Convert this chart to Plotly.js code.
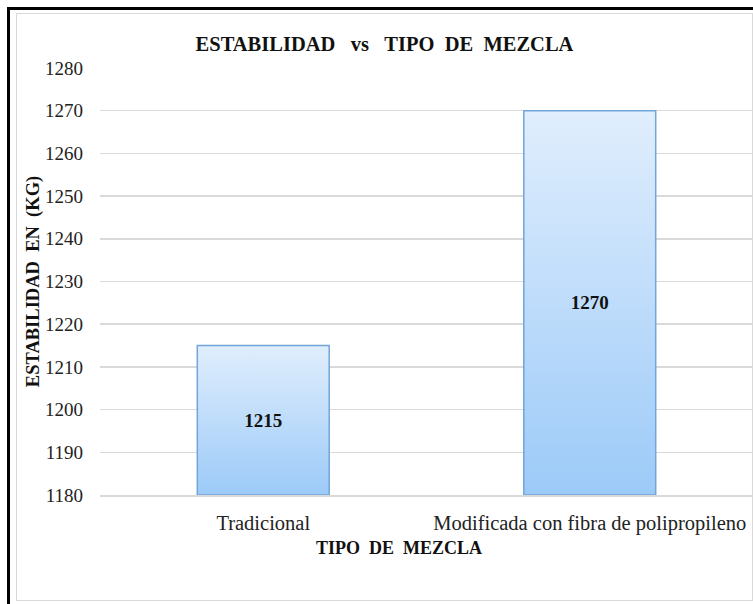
<!DOCTYPE html>
<html>
<head>
<meta charset="utf-8">
<script src="https://cdn.plot.ly/plotly-3.0.1.min.js"></script>
<style>
  html, body { margin: 0; padding: 0; background: #ffffff; }
  #wrap { position: relative; width: 753px; height: 604px; overflow: hidden; }
  #chart { position: absolute; left: 0; top: 0; width: 753px; height: 604px; }
  .deco { position: absolute; pointer-events: none; }
</style>
</head>
<body>
<div id="wrap">
  <div id="chart"></div>
  <div class="deco" style="left:7px; top:7px; width:746px; height:3px; background:#000;"></div>
  <div class="deco" style="left:7px; top:7px; width:3px; height:597px; background:#000;"></div>
  <div class="deco" style="left:16px; top:13px; width:735px; height:586px; border:1px solid #d9d9d9;"></div>
</div>
<script>
// ---- data ----
const categories = ['Tradicional', 'Modificada con fibra de polipropileno'];
const estabilidad = [1215, 1270];
const yAxisMin = 1180;
const yAxisMax = 1280;
const yTickValues = [1180, 1190, 1200, 1210, 1220, 1230, 1240, 1250, 1260, 1270, 1280];
const chartTitle = 'ESTABILIDAD\u00A0\u00A0\u00A0vs\u00A0\u00A0\u00A0TIPO\u00A0\u00A0DE\u00A0\u00A0MEZCLA';
const xTitle = 'TIPO\u00A0\u00A0DE\u00A0\u00A0MEZCLA';
const yTitle = 'ESTABILIDAD\u00A0\u00A0EN\u00A0\u00A0(KG)';

const serif = 'Liberation Serif, Times New Roman, serif';

// bars start at the axis minimum (as in the original chart), so each bar
// spans from yAxisMin up to its value
const trace = {
  type: 'bar',
  x: categories,
  base: yAxisMin,
  y: estabilidad.map(function (v) { return v - yAxisMin; }),
  customdata: estabilidad,
  marker: {
    color: '#bcdcfa',
    line: { color: '#72a5d9', width: 1.5 }
  },
  text: estabilidad.map(String),
  textposition: 'inside',
  insidetextanchor: 'middle',
  textangle: 0,
  textfont: { family: serif, size: 19, color: '#111', weight: 'bold' },
  hovertemplate: '%{x}: %{customdata}<extra></extra>'
};

const layout = {
  width: 753,
  height: 604,
  margin: { l: 100, r: 0, t: 68, b: 109, pad: 0 },
  paper_bgcolor: '#ffffff',
  plot_bgcolor: '#ffffff',
  showlegend: false,
  bargap: 0.596,
  font: { family: serif, color: '#222' },
  title: {
    text: chartTitle,
    font: { family: serif, size: 20.5, color: '#111', weight: 'bold' },
    xref: 'container', x: 384.5 / 753, xanchor: 'center',
    yref: 'container', y: 1 - 44 / 604, yanchor: 'middle'
  },
  xaxis: {
    type: 'category',
    showgrid: false,
    showline: true,
    linecolor: '#d9d9d9',
    linewidth: 1.5,
    ticks: '',
    ticklabelstandoff: 9,
    tickfont: { family: serif, size: 20.5, color: '#222' },
    automargin: false
  },
  yaxis: {
    range: [yAxisMin, yAxisMax],
    tickvals: yTickValues,
    ticktext: yTickValues.map(String),
    showgrid: true,
    gridcolor: '#d9d9d9',
    gridwidth: 1.5,
    zeroline: false,
    showline: false,
    ticks: '',
    ticklabelstandoff: 16,
    tickfont: { family: serif, size: 19, color: '#222' },
    automargin: false,
    title: {
      text: yTitle,
      font: { family: serif, size: 18.5, color: '#111', weight: 'bold' },
      standoff: 0
    }
  },
  annotations: [{
    text: xTitle,
    xref: 'paper', yref: 'paper',
    x: (399 - 100) / 653, y: (495 - 548) / 427,
    xanchor: 'center', yanchor: 'middle',
    showarrow: false,
    font: { family: serif, size: 18, color: '#111', weight: 'bold' }
  }]
};

Plotly.newPlot('chart', [trace], layout, { displayModeBar: false, staticPlot: true }).then(function (gd) {
  const svgNS = 'http://www.w3.org/2000/svg';
  const svg = gd.querySelector('svg.main-svg');
  let defs = svg.querySelector('defs');
  if (!defs) { defs = document.createElementNS(svgNS, 'defs'); svg.insertBefore(defs, svg.firstChild); }
  const grad = document.createElementNS(svgNS, 'linearGradient');
  grad.setAttribute('id', 'barGrad');
  grad.setAttribute('x1', '0'); grad.setAttribute('y1', '0');
  grad.setAttribute('x2', '0'); grad.setAttribute('y2', '1');
  [['0', '#e0eefd'], ['1', '#9ccaf8']].forEach(function (s) {
    const st = document.createElementNS(svgNS, 'stop');
    st.setAttribute('offset', s[0]);
    st.setAttribute('stop-color', s[1]);
    grad.appendChild(st);
  });
  defs.appendChild(grad);
  gd.querySelectorAll('.trace.bars .point path').forEach(function (p) {
    p.style.fill = 'url(#barGrad)';
  });
});
</script>
</body>
</html>
